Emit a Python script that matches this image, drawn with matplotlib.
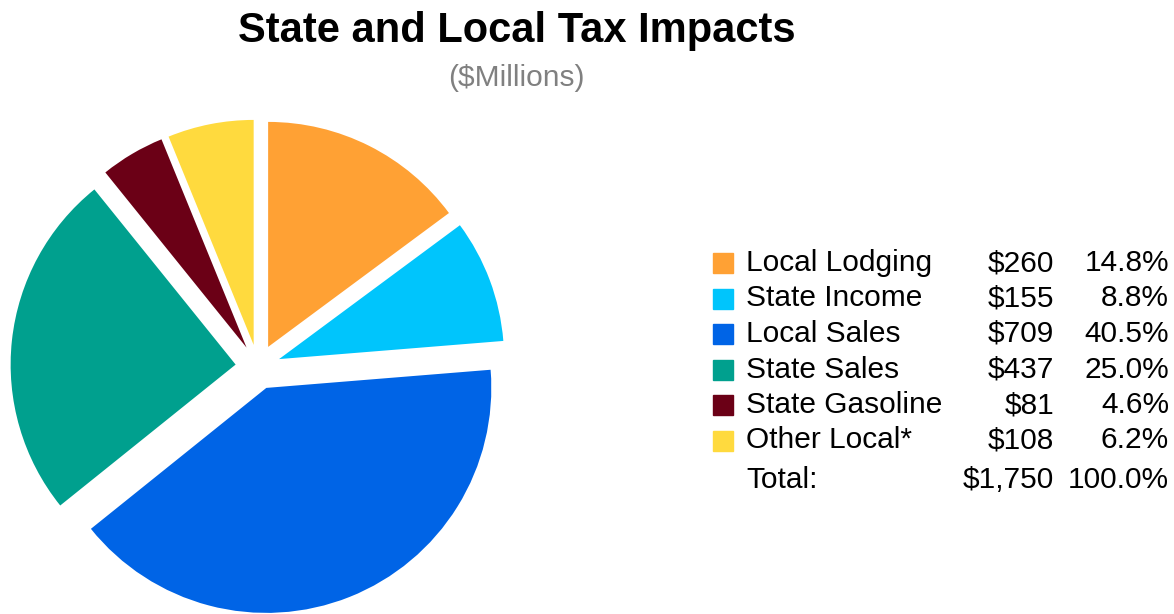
import matplotlib.pyplot as plt
from matplotlib.patches import Rectangle

plt.rcParams['font.family'] = ['Liberation Sans', 'DejaVu Sans']

# data
labels = ['Local Lodging', 'State Income', 'Local Sales', 'State Sales', 'State Gasoline', 'Other Local*']
values = [260, 155, 709, 437, 81, 108]
pcts = [14.8, 8.8, 40.5, 25.0, 4.6, 6.2]
total_pct = 100.0
colors = ['#FFA134', '#00C5FC', '#0064E6', '#00A08E', '#6B0016', '#FFDA3E']

W, H = 1174, 614
fig = plt.figure(figsize=(W / 100, H / 100), dpi=100)

# pie axes: centre at (258, 367) px, radius 225 px
R = 225
cx, cy = 258, 367
half = 1.2 * R
ax = fig.add_axes([(cx - half) / W, (H - cy - half) / H, 2 * half / W, 2 * half / H])
ax.pie(values, colors=colors, startangle=90, counterclock=False,
       explode=[0.1] * len(values), radius=1,
       wedgeprops={'linewidth': 0})
ax.set_xlim(-1.2, 1.2)
ax.set_ylim(-1.2, 1.2)
ax.set_aspect('equal')
ax.axis('off')

# titles
fig.text(517 / W, 1 - 42 / H, 'State and Local Tax Impacts', ha='center', va='baseline',
         fontsize=30, fontweight='bold')
fig.text(516 / W, 1 - 86 / H, '($Millions)', ha='center', va='baseline',
         fontsize=21.5, color='#808080')

# legend table
row0 = 263
step = 35.5
fs = 21.5
for i, (lab, v, p, c) in enumerate(zip(labels, values, pcts, colors)):
    y = row0 + i * step
    fig.patches.append(Rectangle((713 / W, 1 - (y + 10) / H), 20 / W, 20 / H,
                                 transform=fig.transFigure, color=c))
    fig.text(746 / W, 1 - y / H, lab, va='center', fontsize=fs)
    fig.text(1054 / W, 1 - y / H, f'${v:,}', va='center', ha='right', fontsize=fs)
    fig.text(1169 / W, 1 - y / H, f'{p:.1f}%', va='center', ha='right', fontsize=fs)

y = 480
fig.text(746 / W, 1 - y / H, 'Total:', va='center', fontsize=fs)
fig.text(1054 / W, 1 - y / H, f'${sum(values):,}', va='center', ha='right', fontsize=fs)
fig.text(1169 / W, 1 - y / H, f'{total_pct:.1f}%', va='center', ha='right', fontsize=fs)

fig.savefig('out.png', dpi=100)
